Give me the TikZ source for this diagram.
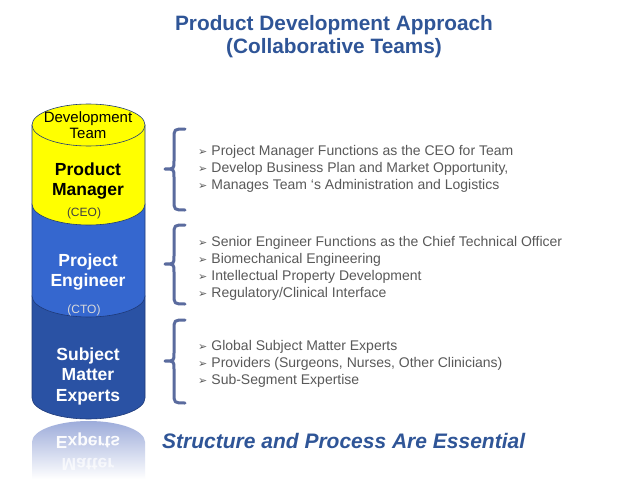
\documentclass[tikz,border=0pt]{standalone}
\usepackage{fontspec}
\setmainfont{Liberation Sans}
\newfontfamily\dejavu{DejaVu Sans}
\definecolor{titleblue}{HTML}{2F5597}
\definecolor{cylyellow}{HTML}{FFFF00}
\definecolor{cylmid}{HTML}{3567CF}
\definecolor{cyldark}{HTML}{2A52A4}
\definecolor{cyledge}{HTML}{1F3A78}
\definecolor{bracecol}{HTML}{5A6B9E}
\definecolor{bulletgray}{HTML}{595959}
\definecolor{reflblue}{HTML}{9DACDA}
\newcommand{\bul}{{\dejavu\fontsize{11}{11}\selectfont ➢}\hspace{4pt}}
\tikzset{
  titletext/.style={font=\fontsize{20.8}{23}\selectfont\bfseries, text=titleblue, align=center},
  bullettext/.style={font=\fontsize{14}{17}\selectfont, text=bulletgray, align=left, anchor=west, inner sep=0pt},
  cyltext/.style={font=\fontsize{17.5}{20.5}\selectfont\bfseries, align=center, inner sep=0pt},
  smalltext/.style={font=\fontsize{12}{14}\selectfont, inner sep=0pt},
  bracestyle/.style={draw=bracecol, line width=3pt, line cap=round, line join=round},
  cylline/.style={draw=cyledge, line width=0.6pt},
}
\begin{document}
\begin{tikzpicture}[x=1pt,y=-1pt]
\useasboundingbox (0,0) rectangle (638,479);
\fill[white] (0,0) rectangle (638,479);

% title
\node[titletext] (title) at (334,37) {Product Development Approach\\(Collaborative Teams)};

% reflection
\shade[top color=reflblue, bottom color=white] (32,442) arc (180:0:56.5pt and 21pt) -- (145,479) -- (32,479) -- cycle;
\node[cyltext, text=white, text opacity=0.95] (reflA) at (88,441) {\scalebox{1}[-1]{Experts}};
\node[cyltext, text=white, text opacity=0.7] (reflB) at (88,464) {\scalebox{1}[-1]{Matter}};

% cylinder layers
\filldraw[cylline, fill=cyldark] (32,296) -- (32,398) arc (180:360:56.5pt and 21pt) -- (145,296) -- cycle;
\filldraw[cylline, fill=cylmid] (32,204) -- (32,296) arc (180:360:56.5pt and 21pt) -- (145,204) -- cycle;
\filldraw[cylline, fill=cylyellow] (32,125) -- (32,204) arc (180:360:56.5pt and 21pt) -- (145,125) -- cycle;
\filldraw[cylline, fill=cylyellow] (88.5,125) ellipse [x radius=56.5pt, y radius=21pt];

% cylinder texts
\node[font=\fontsize{15}{16}\selectfont, align=center, inner sep=0pt] (devteam) at (88,125) {Development\\Team};
\node[cyltext, text=black] (pm) at (88,181) {Product\\Manager};
\node[smalltext, text=black!75] (ceo) at (84,213) {(CEO)};
\node[cyltext, text=white] (pe) at (88,272) {Project\\Engineer};
\node[smalltext, text=white!85!black] (cto) at (84,310) {(CTO)};
\node[cyltext, text=white] (sme) at (88,376) {Subject\\Matter\\Experts};

% braces
\draw[bracestyle] (185,129) .. controls (174,129) .. (174,139) -- (174,161) .. controls (174,169) .. (165,169) .. controls (174,169) .. (174,177) -- (174,200) .. controls (174,210) .. (185,210);
\draw[bracestyle] (185,225) .. controls (174,225) .. (174,235) -- (174,256) .. controls (174,264) .. (165,264) .. controls (174,264) .. (174,272) -- (174,294) .. controls (174,304) .. (185,304);
\draw[bracestyle] (185,320) .. controls (174,320) .. (174,330) -- (174,353) .. controls (174,361) .. (165,361) .. controls (174,361) .. (174,369) -- (174,393) .. controls (174,403) .. (185,403);

% bullets
\node[bullettext] (g1) at (198,169) {\bul Project Manager Functions as the CEO for Team\\\bul Develop Business Plan and Market Opportunity,\\\bul Manages Team ‘s Administration and Logistics};
\node[bullettext] (g2) at (198,268) {\bul Senior Engineer Functions as the Chief Technical Officer\\\bul Biomechanical Engineering\\\bul Intellectual Property Development\\\bul Regulatory/Clinical Interface};
\node[bullettext] (g3) at (198,364) {\bul Global Subject Matter Experts\\\bul Providers (Surgeons, Nurses, Other Clinicians)\\\bul Sub-Segment Expertise};

% bottom statement
\node[font=\fontsize{21}{24}\selectfont\bfseries\itshape, text=titleblue, anchor=west, inner sep=0pt] (stmt) at (162,441) {Structure and Process Are Essential};
\end{tikzpicture}
\end{document}
